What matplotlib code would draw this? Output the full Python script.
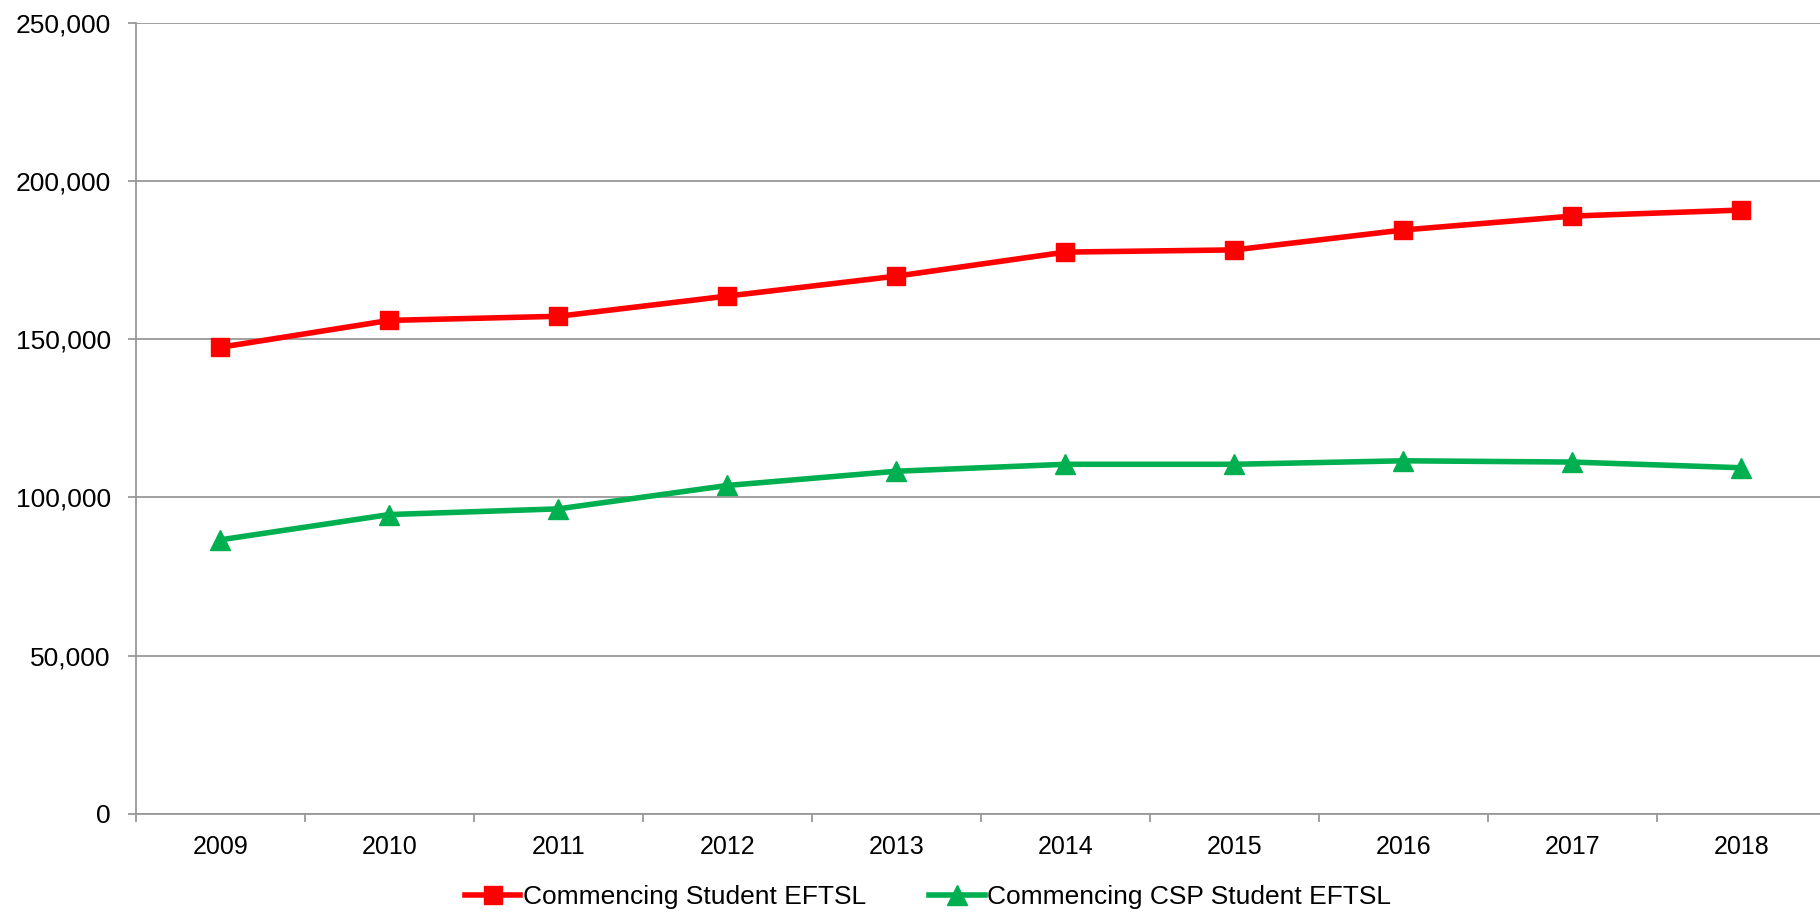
import matplotlib.pyplot as plt
from matplotlib.ticker import FuncFormatter, FixedLocator

years = ['2009', '2010', '2011', '2012', '2013', '2014', '2015', '2016', '2017', '2018']
commencing = [147500, 156000, 157300, 163700, 170000, 177600, 178300, 184600, 189000, 190900]
commencingCSP = [86600, 94600, 96400, 103800, 108300, 110500, 110500, 111600, 111200, 109400]

plt.rcParams['font.family'] = ['Liberation Sans', 'DejaVu Sans']

fig = plt.figure(figsize=(18.2, 9.16), dpi=100)
ax = fig.add_axes([0.0746, 0.1117, 0.9287, 0.863])

xGrid = list(range(len(years)))
ax.plot(xGrid, commencing, color='#FF0000', lw=4.0, marker='s', ms=13.5,
        label='Commencing Student EFTSL', zorder=3)
ax.plot(xGrid, commencingCSP, color='#00B050', lw=4.0, marker='^', ms=14.5,
        label='Commencing CSP Student EFTSL', zorder=3)

ax.set_xlim(-0.5, len(years) - 0.5)
ax.set_ylim(0, 250000)
ax.set_yticks(range(0, 250001, 50000))
ax.yaxis.set_major_formatter(FuncFormatter(lambda v, p: f'{int(v):,}'))
ax.yaxis.grid(True, color='#999999', lw=1.3)
ax.set_axisbelow(True)

ax.set_xticks(xGrid)
ax.set_xticklabels(years)
ax.xaxis.set_minor_locator(FixedLocator([i - 0.5 for i in range(len(years) + 1)]))
ax.tick_params(axis='x', which='major', length=0, pad=15, labelsize=18)
ax.tick_params(axis='x', which='minor', length=6, width=1.3, color='#999999')
ax.tick_params(axis='y', length=6, width=1.3, color='#999999', labelsize=19, pad=12)

for s in ['top', 'right']:
    ax.spines[s].set_visible(False)
for s in ['left', 'bottom']:
    ax.spines[s].set_color('#999999')
    ax.spines[s].set_linewidth(1.3)

leg = fig.legend(loc='center', bbox_to_anchor=(0.51, 0.021), ncol=2, frameon=False,
                 fontsize=19, handlelength=2.1, handletextpad=0.1, columnspacing=2.4)

fig.savefig('out.png', dpi=100)
